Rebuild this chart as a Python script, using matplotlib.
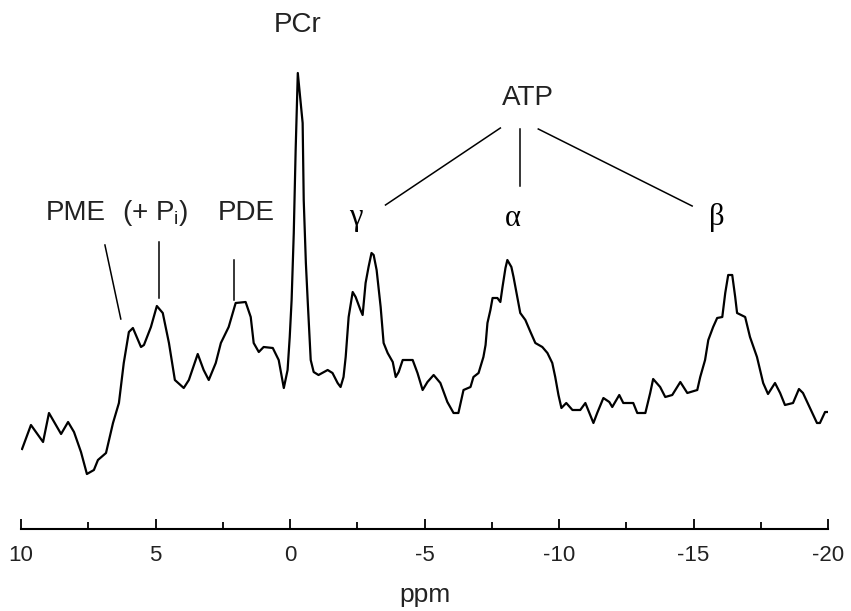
import matplotlib
matplotlib.use('Agg')
import matplotlib.pyplot as plt
import numpy as np

plt.rcParams['font.family'] = ['Liberation Sans', 'DejaVu Sans']
plt.rcParams['mathtext.default'] = 'regular'

# chemical shift (ppm) and signal (arb. units)
ppm = [9.96, 9.63, 9.18, 8.96, 8.51, 8.25, 8.03, 7.77, 7.55, 7.29, 7.14, 6.84,
       6.58, 6.36, 6.18, 5.99, 5.84, 5.54, 5.43, 5.17, 4.95, 4.73, 4.50, 4.28,
       3.95, 3.76, 3.43, 3.21, 3.02, 2.76, 2.57, 2.28, 2.02, 1.65, 1.46, 1.35,
       1.16, 0.98, 0.64, 0.42, 0.23, 0.09, 0.01, -0.06, -0.14, -0.21, -0.29,
       -0.47, -0.51, -0.59, -0.66, -0.77, -0.88, -1.06, -1.40, -1.58, -1.77,
       -1.88, -1.99, -2.07, -2.18, -2.33, -2.44, -2.62, -2.70, -2.81, -2.92,
       -3.03, -3.11, -3.22, -3.37, -3.48, -3.63, -3.82, -3.93, -4.04, -4.19,
       -4.56, -4.74, -4.93, -5.11, -5.34, -5.59, -5.85, -6.08, -6.26, -6.45,
       -6.71, -6.82, -7.01, -7.19, -7.27, -7.34, -7.45, -7.53, -7.71, -7.82,
       -7.90, -8.01, -8.08, -8.23, -8.31, -8.45, -8.56, -8.75, -8.94, -9.12,
       -9.38, -9.57, -9.75, -9.86, -9.98, -10.09, -10.27, -10.50, -10.79,
       -10.98, -11.13, -11.28, -11.42, -11.65, -11.87, -11.98, -12.24, -12.39,
       -12.76, -12.91, -13.21, -13.39, -13.50, -13.76, -13.95, -14.21, -14.51,
       -14.77, -15.14, -15.25, -15.43, -15.55, -15.73, -15.88, -16.07, -16.18,
       -16.29, -16.44, -16.55, -16.62, -16.92, -17.10, -17.36, -17.59, -17.77,
       -18.03, -18.22, -18.40, -18.70, -18.92, -19.07, -19.33, -19.59, -19.70,
       -19.89, -20.00]
signal = [71, 95, 78, 107, 86, 98, 88, 68, 46, 50, 60, 67,
          97, 117, 157, 188, 192, 173, 175, 193, 214, 207, 177, 140,
          132, 140, 166, 150, 140, 157, 177, 193, 217, 218, 203, 177,
          168, 173, 172, 160, 132, 150, 183, 220, 287, 370, 447,
          397, 320, 257, 218, 160, 148, 145, 150, 147, 137,
          133, 143, 163, 203, 228, 223, 210, 205, 237, 253,
          267, 265, 250, 213, 177, 167, 158, 143, 148, 160,
          160, 147, 130, 138, 145, 137, 118, 107, 107, 130,
          133, 143, 147, 163, 175, 197, 210, 222, 222, 218,
          233, 252, 260, 253, 243, 223, 207, 200, 188, 177,
          173, 167, 157, 143, 125, 112, 117, 110, 110,
          117, 107, 97, 107, 122, 118, 113, 125, 117,
          117, 107, 107, 127, 141, 133, 123, 125, 138,
          127, 130, 143, 160, 180, 193, 202, 203, 227,
          245, 245, 223, 207, 203, 183, 163, 137, 126,
          137, 127, 115, 117, 131, 127, 112, 97, 97,
          108, 108]

fig = plt.figure(figsize=(8.51, 6.11), dpi=100)
ax = fig.add_axes([21 / 851, 82 / 611, 807 / 851, 529 / 611])
ax.plot(ppm, signal, color='black', lw=1.6)

ax.set_xlim(10, -20)
ax.set_ylim(-9, 520)
for s in ['left', 'right', 'top']:
    ax.spines[s].set_visible(False)
ax.spines['bottom'].set_linewidth(1.5)
ax.set_yticks([])
ax.set_xticks(np.arange(10, -21, -5))
ax.set_xticklabels(['10', '5', '0', '-5', '-10', '-15', '-20'], fontsize=16, color='#222222')
ax.set_xticks(np.arange(7.5, -20, -5), minor=True)
ax.tick_params(axis='x', which='major', direction='in', length=7.5, width=1.3, pad=11.5)
ax.tick_params(axis='x', which='minor', direction='in', length=5, width=1.3)
ax.set_xlabel('ppm', fontsize=19, labelpad=12, color='#222222')

lab = dict(fontsize=20, ha='center', va='center', color='#222222')
ax.text(-0.29, 495, 'PCr', **lab)
ax.text(-8.83, 422, 'ATP', **lab)
ax.text(7.96, 307, 'PME', **lab)
ax.text(4.99, 307, '(+ P$_i$)', **lab)
ax.text(1.61, 307, 'PDE', **lab)
greek = dict(fontsize=22, ha='center', va='center', family='Liberation Serif')
ax.text(-2.44, 302, 'γ', **greek)
ax.text(-8.27, 302, 'α', **greek)
ax.text(-15.88, 303, 'β', **greek)

lk = dict(color='black', lw=1.1)
ax.plot([-7.82, -3.55], [392, 315], **lk)
ax.plot([-8.56, -8.56], [391, 334], **lk)
ax.plot([-9.23, -14.95], [391, 314], **lk)
ax.plot([6.88, 6.29], [275, 201], **lk)
ax.plot([4.88, 4.88], [278, 222], **lk)
ax.plot([2.09, 2.09], [260, 220], **lk)

fig.savefig('out.png', dpi=100)
